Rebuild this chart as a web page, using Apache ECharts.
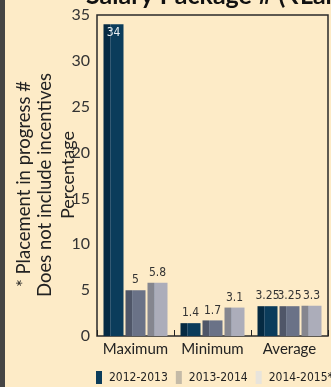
<!DOCTYPE html>
<html>
<head>
<meta charset="utf-8">
<script src="https://cdn.jsdelivr.net/npm/echarts@6/dist/echarts.min.js"></script>
<style>
  html, body { margin: 0; padding: 0; background: #fdebc7; }
  #chart { width: 331px; height: 387px; }
</style>
</head>
<body>
<div id="chart"></div>
<script>
// data
const categories = ['Maximum', 'Minimum', 'Average'];
const seriesNames = ['2012-2013', '2013-2014', '2014-2015*'];
const values2012 = [34, 1.4, 3.25];
const values2013 = [5, 1.7, 3.25];
const values2014 = [5.8, 3.1, 3.3];
const yTicks = [0, 5, 10, 15, 20, 25, 30, 35];

const faceColors = ['#0b3c5b', '#6a7287', '#acadba'];
const sideColors = ['#052a42', '#4f5668', '#85868f'];
const legendColors = ['#0b3c5b', '#c4baa7', '#e8e4dc'];

const labelFont = "'Liberation Sans Narrow', 'DejaVu Sans Condensed', sans-serif";

const makeSeries = (name, values, i) => ({
  name: name,
  type: 'bar',
  barWidth: 20,
  barGap: '10%',
  itemStyle: {
    color: new echarts.graphic.LinearGradient(0, 0, 1, 0, [
      { offset: 0, color: sideColors[i] },
      { offset: 0.32, color: sideColors[i] },
      { offset: 0.33, color: '#8a96a4' },
      { offset: 0.36, color: faceColors[i] },
      { offset: 1, color: faceColors[i] },
    ]),
  },
  data: values.map((v) => ({
    value: v,
    label: v > 30
      ? { position: 'insideTop', color: '#e8eef2', distance: 3 }
      : { position: 'top', color: '#333', distance: 4 },
  })),
  label: {
    show: true,
    fontSize: 12,
    fontFamily: labelFont,
  },
});

const chart = echarts.init(document.getElementById('chart'));
chart.setOption({
  animation: false,
  backgroundColor: '#fdebc7',
  textStyle: { fontFamily: 'Lato, sans-serif' },
  grid: {
    left: 97, right: 3, top: 15, bottom: 51,
    show: true,
    borderColor: '#2a2a2a',
    borderWidth: 1.5,
    backgroundColor: 'transparent',
  },
  legend: {
    left: 96,
    top: 371,
    width: 400,
    padding: 0,
    icon: 'rect',
    itemWidth: 6,
    itemHeight: 13,
    itemGap: 8,
    textStyle: { fontSize: 12, color: '#222', fontFamily: labelFont, padding: [0, 0, 0, 2] },
    data: seriesNames.map((n, i) => ({ name: n, itemStyle: { color: legendColors[i] } })),
  },
  xAxis: {
    type: 'category',
    data: categories,
    axisLine: { show: false },
    axisTick: { show: true, inside: true, length: 6, lineStyle: { color: '#222' } },
    axisLabel: { color: '#222', fontSize: 15, margin: 6, interval: 0 },
  },
  yAxis: {
    type: 'value',
    min: yTicks[0],
    max: yTicks[yTicks.length - 1],
    interval: 5,
    axisLine: { show: false },
    axisTick: { show: false },
    splitLine: { show: false },
    axisLabel: { color: '#333', fontSize: 16, margin: 7 },
  },
  graphic: [
    { type: 'rect', left: 0, top: 0, shape: { width: 5, height: 387 }, style: { fill: '#454545' } },
    {
      type: 'text', x: 86, y: 8,
      style: {
        text: 'Salary Package # (₹Lakh)',
        font: 'bold 25px Lato, sans-serif',
        fill: '#111',
        textVerticalAlign: 'bottom',
      },
    },
    {
      type: 'text', x: 24, y: 184, rotation: Math.PI / 2,
      style: {
        text: '* Placement in progress #',
        font: '18.5px Lato, sans-serif',
        fill: '#222',
        textAlign: 'center',
        textVerticalAlign: 'middle',
      },
    },
    {
      type: 'text', x: 45, y: 185, rotation: Math.PI / 2,
      style: {
        text: 'Does not include incentives',
        font: '18.5px Lato, sans-serif',
        fill: '#222',
        textAlign: 'center',
        textVerticalAlign: 'middle',
      },
    },
    {
      type: 'text', x: 68, y: 175, rotation: Math.PI / 2,
      style: {
        text: 'Percentage',
        font: '18px Lato, sans-serif',
        fill: '#222',
        textAlign: 'center',
        textVerticalAlign: 'middle',
      },
    },
  ],
  series: [
    makeSeries(seriesNames[0], values2012, 0),
    makeSeries(seriesNames[1], values2013, 1),
    makeSeries(seriesNames[2], values2014, 2),
  ],
});
</script>
</body>
</html>
